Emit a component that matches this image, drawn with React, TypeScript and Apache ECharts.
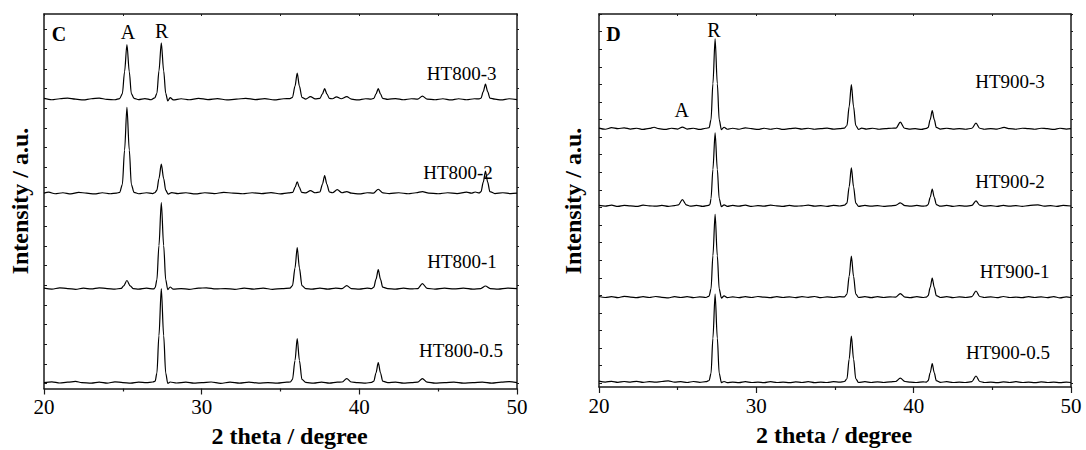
import React, { useEffect, useRef } from "react";
import * as echarts from "echarts";

// ---------- data ----------
const X_MIN = 20;
const X_MAX = 50;
const X_STEP = 10;
const Y_MAX = 1900;

const SERIES_C = ["HT800-3", "HT800-2", "HT800-1", "HT800-0.5"];
const OFFSETS_C = [1468, 991, 507, 30];
const SERIES_D = ["HT900-3", "HT900-2", "HT900-1", "HT900-0.5"];
const OFFSETS_D = [1316, 923, 458, 25];

const HT800_3: number[][] = [[20,4],[20.5,-3],[21,2],[21.5,5],[22,0],[22.5,-4],[23,2],[23.5,5],[24,-1],[24.5,-3],[24.8,3],
[24.97,28],[25.11,139],[25.26,277],[25.41,139],[25.54,28],[25.71,4],
[26,-2],[26.4,3],[26.8,-3],[27.02,6],
[27.16,29],[27.29,143],[27.44,285],[27.59,143],[27.72,29],[27.85,-9],[28.0,8],[28.2,-4],
[28.7,2],[29.2,-3],[29.8,4],[30.4,-2],[31.0,3],[31.6,-4],[32.2,0],[32.8,4],[33.4,-2],[34.0,3],[34.6,-4],[35.2,2],[35.6,3],
[35.76,9],[35.92,66],[36.06,132],[36.2,66],[36.36,9],[36.6,0],[36.9,13],[37.2,1],
[37.5,4],[37.66,27],[37.8,53],[37.94,27],[38.1,4],[38.3,2],[38.55,12],[38.85,2],[39.2,13],[39.5,0],[39.9,-4],[40.4,2],[40.75,0],
[40.92,4],[41.06,27],[41.2,53],[41.34,27],[41.48,4],[41.8,-1],[42.3,3],[42.8,-3],[43.3,2],[43.7,0],[44.0,15],[44.3,0],[44.8,-3],[45.3,2],[45.8,-4],[46.3,2],[46.8,-3],[47.3,2],[47.6,1],
[47.72,5],[47.86,38],[48.0,76],[48.14,38],[48.28,5],[48.6,0],[49.0,-4],[49.5,2],[50,-2]];

const HT800_2: number[][] = [[20,0],[20.3,5],[20.7,-3],[21.2,2],[21.7,-4],[22.2,4],[22.7,0],[23.2,-4],[23.7,2],[24.2,-3],[24.6,0],[24.8,4],
[24.97,44],[25.11,218],[25.26,435],[25.41,218],[25.54,44],[25.71,4],[26.0,-3],[26.5,2],[26.9,-2],[27.04,3],
[27.16,15],[27.29,74],[27.44,147],[27.59,74],[27.72,15],[27.88,-5],[28.1,3],[28.5,-2],[29.0,2],[29.6,-4],[30.2,2],[30.8,-2],[31.4,4],[32.0,0],[32.6,-3],[33.2,2],[33.8,-2],[34.4,3],[35.0,-4],[35.5,1],
[35.78,4],[35.92,29],[36.06,58],[36.2,29],[36.34,4],[36.6,1],[36.9,13],[37.2,2],
[37.5,6],[37.66,45],[37.8,89],[37.94,45],[38.1,6],[38.3,2],[38.6,18],[38.9,2],[39.2,8],[39.5,0],[40.0,-4],[40.5,2],[40.9,0],
[41.2,20],[41.5,1],[41.9,-2],[42.5,2],[43.1,-3],[43.6,2],[44.0,8],[44.4,0],[45.0,-3],[45.6,2],[46.2,-2],[46.8,5],[47.1,0],[47.35,6],[47.6,1],
[47.72,8],[47.86,56],[48.0,112],[48.14,56],[48.28,8],[48.6,-2],[49.1,2],[49.6,-2],[50,0]];

const HT800_1: number[][] = [[20,2],[20.5,-3],[21,4],[21.5,0],[22,-4],[22.5,2],[23,-2],[23.5,4],[24,0],[24.5,-3],[24.9,1],
[25.05,14],[25.26,41],[25.47,14],[25.65,0],[26.0,-3],[26.5,2],[26.95,-2],[27.05,5],
[27.16,44],[27.29,218],[27.44,436],[27.59,218],[27.72,44],[27.85,-5],[28.0,8],[28.2,-3],[28.7,0],[29.2,-4],[29.8,2],[30.3,4],[30.9,-2],[31.5,0],[32.1,-4],[32.7,2],[33.3,-3],[33.9,2],[34.5,-4],[35.1,0],[35.6,2],
[35.76,15],[35.92,104],[36.06,208],[36.2,104],[36.36,15],[36.6,0],[37.0,-3],[37.5,2],[38.0,-3],[38.5,2],[38.9,0],[39.2,15],[39.5,0],[40.0,-3],[40.5,2],[40.78,0],
[40.92,7],[41.06,48],[41.2,96],[41.34,48],[41.48,7],[41.8,0],[42.3,-3],[42.8,2],[43.3,-2],[43.7,0],[44.0,25],[44.3,1],[44.8,-3],[45.4,2],[46.0,-2],[46.6,2],[47.2,-3],[47.7,0],[48.0,13],[48.3,0],[48.8,-3],[49.4,2],[50,0]];

const HT800_05: number[][] = [[20,0],[20.5,4],[21,-2],[21.5,2],[22,6],[22.4,0],[23,-3],[23.5,2],[24,-3],[24.5,4],[25,0],[25.5,-3],[26,2],[26.5,0],[26.9,3],[27.05,7],
[27.16,48],[27.29,238],[27.44,477],[27.59,238],[27.72,48],[27.85,-4],[28.0,3],[28.4,-2],[29,2],[29.5,-3],[30,0],[30.6,3],[31.2,-4],[31.8,2],[32.4,-3],[33,2],[33.6,-3],[34.2,0],[34.8,-3],[35.4,2],[35.62,3],
[35.76,16],[35.92,112],[36.06,223],[36.2,112],[36.36,16],[36.6,1],[37.1,-3],[37.6,2],[38.1,-3],[38.6,2],[38.9,3],[39.2,20],[39.5,3],[39.9,0],[40.4,-3],[40.78,1],
[40.92,7],[41.06,50],[41.2,101],[41.34,50],[41.48,7],[41.8,0],[42.3,2],[42.8,-3],[43.3,0],[43.7,2],[44.0,20],[44.3,2],[44.8,-3],[45.4,0],[46.0,2],[46.6,-3],[47.2,0],[47.8,2],[48.4,-3],[49.0,2],[49.5,5],[50,0]];

const HT900_3: number[][] = [[20,3],[20.4,-3],[20.8,5],[21.2,0],[21.6,4],[22.0,-2],[22.4,2],[22.8,-4],[23.2,1],[23.5,7],[23.8,0],[24.2,-4],[24.6,2],[25.0,-2],[25.3,8],[25.6,-2],[26.0,2],[26.4,-4],[26.8,2],[27.0,5],
[27.12,46],[27.24,229],[27.38,458],[27.52,229],[27.64,46],[27.78,-5],[27.95,7],[28.15,-3],[28.5,2],[28.9,-3],[29.3,4],[29.7,0],[30.1,-4],[30.5,2],[30.9,-3],[31.3,2],[31.7,-4],[32.1,0],[32.5,3],[32.9,-2],[33.3,2],[33.7,-3],[34.1,0],[34.5,3],[34.9,-2],[35.3,0],[35.6,3],
[35.76,16],[35.9,112],[36.04,224],[36.18,112],[36.32,16],[36.5,-4],[36.7,3],[37.0,-2],[37.4,2],[37.8,-3],[38.2,0],[38.6,2],[38.88,3],
[39.15,33],[39.42,2],[39.7,-2],[40.1,0],[40.5,-4],[40.8,1],
[40.92,6],[41.05,46],[41.18,92],[41.31,46],[41.44,6],[41.7,-2],[42.1,2],[42.5,-2],[42.9,0],[43.3,-3],[43.7,2],[43.96,28],[44.2,2],[44.5,-3],[44.9,0],[45.3,-2],[45.75,6],[46.1,0],[46.5,-3],[46.9,2],[47.3,0],[47.7,-3],[48.1,2],[48.5,0],[48.9,-4],[49.3,2],[49.7,-2],[50,0]];

const HT900_2: number[][] = [[20,2],[20.4,-2],[20.8,3],[21.2,-3],[21.6,2],[22.0,0],[22.4,-3],[22.8,3],[23.2,0],[23.6,-2],[24.0,2],[24.4,-3],[24.8,1],[25.05,5],[25.3,31],[25.55,5],[25.8,-2],[26.2,2],[26.6,-3],[26.95,2],[27.05,6],
[27.12,37],[27.24,186],[27.38,372],[27.52,186],[27.64,37],[27.78,-4],[27.95,5],[28.15,-3],[28.5,2],[28.9,-2],[29.3,3],[29.7,-3],[30.1,1],[30.5,-2],[30.9,3],[31.3,0],[31.7,-3],[32.1,2],[32.5,-2],[32.9,0],[33.3,3],[33.7,-2],[34.1,1],[34.5,-3],[34.9,2],[35.3,-1],[35.6,3],
[35.76,14],[35.9,97],[36.04,193],[36.18,97],[36.32,14],[36.5,-3],[36.9,2],[37.3,-2],[37.7,1],[38.1,-3],[38.5,0],[38.85,2],[39.15,15],[39.45,1],[39.8,-2],[40.2,2],[40.6,-2],[40.8,0],
[40.92,6],[41.05,43],[41.18,85],[41.31,43],[41.44,6],[41.7,-2],[42.1,2],[42.5,-3],[42.9,1],[43.3,-2],[43.7,2],[43.96,25],[44.2,3],[44.5,-2],[44.9,1],[45.3,-3],[45.7,2],[46.1,-2],[46.5,1],[46.9,-3],[47.3,1],[47.9,5],[48.3,-2],[48.7,1],[49.1,-3],[49.5,2],[50,-1]];

const HT900_1: number[][] = [[20,3],[20.4,-2],[20.8,2],[21.2,-3],[21.6,4],[22.0,0],[22.4,-3],[22.8,2],[23.2,-2],[23.6,3],[24.0,-1],[24.4,-4],[24.8,2],[25.2,-2],[25.6,2],[26.0,-3],[26.4,1],[26.8,-2],[27.0,5],
[27.12,42],[27.24,211],[27.38,422],[27.52,211],[27.64,42],[27.78,-5],[27.95,6],[28.15,-3],[28.5,1],[28.9,-3],[29.3,2],[29.7,-2],[30.1,3],[30.5,0],[30.9,-3],[31.3,2],[31.7,-2],[32.1,1],[32.5,-3],[32.9,2],[33.3,-1],[33.7,3],[34.1,-3],[34.5,1],[34.9,-2],[35.3,2],[35.6,1],
[35.76,15],[35.9,105],[36.04,209],[36.18,105],[36.32,15],[36.5,-2],[36.9,2],[37.3,-3],[37.7,2],[38.1,-2],[38.5,1],[38.85,0],[39.15,18],[39.45,0],[39.8,-3],[40.2,2],[40.6,-2],[40.8,0],
[40.92,7],[41.05,49],[41.18,97],[41.31,49],[41.44,7],[41.7,-2],[42.1,2],[42.5,-3],[42.9,1],[43.3,-2],[43.7,2],[43.96,31],[44.2,3],[44.5,-2],[44.9,1],[45.3,-3],[45.7,3],[46.1,-2],[46.5,0],[46.9,-3],[47.3,2],[47.7,-2],[48.1,1],[48.5,-3],[48.9,2],[49.3,-4],[49.7,1],[50,-2]];

const HT900_05: number[][] = [[20,5],[20.4,0],[20.8,4],[21.2,-1],[21.6,3],[22.0,0],[22.4,4],[22.8,-1],[23.2,2],[23.6,0],[24.0,3],[24.4,6],[24.8,0],[25.2,2],[25.6,-2],[26.0,3],[26.4,-1],[26.8,2],[27.0,8],
[27.12,45],[27.24,224],[27.38,448],[27.52,224],[27.64,45],[27.78,-3],[27.95,3],[28.15,-3],[28.5,0],[28.9,-3],[29.3,2],[29.7,-2],[30.1,0],[30.5,-3],[30.9,2],[31.3,-2],[31.7,0],[32.1,-3],[32.5,1],[32.9,-2],[33.3,2],[33.7,-3],[34.1,0],[34.5,-2],[34.9,2],[35.3,0],[35.6,3],
[35.76,17],[35.9,117],[36.04,234],[36.18,117],[36.32,17],[36.5,-2],[36.9,2],[37.3,-2],[37.7,1],[38.1,-2],[38.5,1],[38.85,3],[39.15,20],[39.45,3],[39.8,0],[40.2,-2],[40.6,1],[40.8,0],
[40.92,7],[41.05,47],[41.18,94],[41.31,47],[41.44,7],[41.7,-1],[42.1,2],[42.5,-2],[42.9,0],[43.3,-2],[43.7,2],[43.96,31],[44.2,3],[44.5,-2],[44.9,0],[45.3,-3],[45.7,1],[46.1,-2],[46.5,2],[46.9,-2],[47.3,0],[47.7,-3],[48.1,1],[48.5,-2],[48.9,0],[49.3,-3],[49.7,0],[50,-2]];

const TRACES_C = [HT800_3, HT800_2, HT800_1, HT800_05];
const TRACES_D = [HT900_3, HT900_2, HT900_1, HT900_05];

// ---------- styling ----------
const SERIF = '"Liberation Serif", "Times New Roman", Times, serif';
const AXIS_COLOR = "#1a1a1a";

export default function App() {
  const ref = useRef<HTMLDivElement>(null);

  useEffect(() => {
    if (!ref.current) return;
    const chart = echarts.init(ref.current, undefined, { renderer: "svg" });

    const panels = [
      { main: { left: 44, top: 14, width: 473, height: 374.5 }, ticks: { left: 44, top: 29.5, width: 473, height: 354 }, tickMax: 1800 },
      { main: { left: 599, top: 14, width: 472, height: 373 }, ticks: { left: 599, top: 14, width: 472, height: 369.3 }, tickMax: 2100 },
    ];

    const grid: any[] = [];
    const xAxis: any[] = [];
    const yAxis: any[] = [];
    panels.forEach((p, i) => {
      grid.push({ ...p.main, containLabel: false });
      grid.push({ ...p.ticks, containLabel: false });
      const g = i * 2;
      // bottom axis
      xAxis.push({
        type: "value", gridIndex: g, min: X_MIN, max: X_MAX, interval: X_STEP, position: "bottom",
        axisLine: { show: true, onZero: false, lineStyle: { color: AXIS_COLOR, width: 1.5 } },
        axisTick: { show: true, inside: false, length: 6, lineStyle: { color: AXIS_COLOR, width: 1.2 } },
        minorTick: { show: true, splitNumber: 2, length: 3, lineStyle: { color: AXIS_COLOR, width: 1.2 } },
        axisLabel: { show: true, color: "#000", fontFamily: SERIF, fontSize: 21, margin: 8 },
        splitLine: { show: false },
      });
      // top mirror
      xAxis.push({
        type: "value", gridIndex: g, min: X_MIN, max: X_MAX, interval: X_STEP, position: "top",
        axisLine: { show: true, onZero: false, lineStyle: { color: AXIS_COLOR, width: 1.5 } },
        axisTick: { show: true, inside: true, length: 2, lineStyle: { color: AXIS_COLOR, width: 1 } },
        minorTick: { show: true, splitNumber: 2, length: 2, lineStyle: { color: AXIS_COLOR, width: 1 } },
        axisLabel: { show: false },
        splitLine: { show: false },
      });
      // hidden x for tick grid
      xAxis.push({ type: "value", gridIndex: g + 1, min: X_MIN, max: X_MAX, show: false });
      // main y axes (lines only)
      yAxis.push({
        type: "value", gridIndex: g, min: 0, max: Y_MAX, position: "left",
        axisLine: { show: true, onZero: false, lineStyle: { color: AXIS_COLOR, width: 1.5 } },
        axisTick: { show: false }, axisLabel: { show: false }, splitLine: { show: false },
      });
      yAxis.push({
        type: "value", gridIndex: g, min: 0, max: Y_MAX, position: "right",
        axisLine: { show: true, onZero: false, lineStyle: { color: AXIS_COLOR, width: 1.5 } },
        axisTick: { show: false }, axisLabel: { show: false }, splitLine: { show: false },
      });
      // tick-only y axes
      yAxis.push({
        type: "value", gridIndex: g + 1, min: 0, max: p.tickMax, interval: 100, position: "left",
        axisLine: { show: false },
        axisTick: { show: true, inside: true, length: 3, lineStyle: { color: AXIS_COLOR, width: 1 } },
        axisLabel: { show: false }, splitLine: { show: false },
      });
      yAxis.push({
        type: "value", gridIndex: g + 1, min: 0, max: p.tickMax, interval: 100, position: "right",
        axisLine: { show: false },
        axisTick: { show: true, inside: false, length: 2, lineStyle: { color: AXIS_COLOR, width: 1 } },
        axisLabel: { show: false }, splitLine: { show: false },
      });
    });

    const series: any[] = [];
    const addPanel = (names: string[], traces: number[][][], offsets: number[], panel: number) => {
      names.forEach((name, k) => {
        series.push({
          type: "line",
          name,
          xAxisIndex: panel * 3,
          yAxisIndex: panel * 4,
          data: traces[k].map(([x, y]) => [x, y + offsets[k]]),
          showSymbol: false,
          symbol: "none",
          smooth: 0.3,
          smoothMonotone: "x",
          silent: true,
          lineStyle: { color: "#000", width: 1.2 },
        });
      });
    };
    addPanel(SERIES_C, TRACES_C, OFFSETS_C, 0);
    addPanel(SERIES_D, TRACES_D, OFFSETS_D, 1);

    const txt = (text: string, x: number, y: number, size: number, bold = false, rotation = 0) => ({
      type: "text", x, y, rotation, silent: true,
      style: { text, fill: "#000", font: `${bold ? "bold " : ""}${size}px ${SERIF}`, align: "center", verticalAlign: "middle" },
    });

    const graphic = [
      txt("C", 59, 34, 20, true),
      txt("A", 128, 31.5, 20),
      txt("R", 161.7, 30.5, 20),
      txt(SERIES_C[0], 461.7, 73.3, 19),
      txt(SERIES_C[1], 458, 172.5, 19),
      txt(SERIES_C[2], 462, 261, 19),
      txt(SERIES_C[3], 461, 350.5, 19),
      txt("D", 613.5, 34, 20, true),
      txt("R", 714, 30, 20),
      txt("A", 681.7, 110, 20),
      txt(SERIES_D[0], 1010, 81.7, 19),
      txt(SERIES_D[1], 1010, 181.7, 19),
      txt(SERIES_D[2], 1014.7, 271.7, 19),
      txt(SERIES_D[3], 1008, 352, 19),
      txt("Intensity / a.u.", 20, 201, 24, true, Math.PI / 2),
      txt("Intensity / a.u.", 573, 201, 24, true, Math.PI / 2),
      txt("2 theta / degree", 289.5, 436, 24, true),
      txt("2 theta / degree", 834, 435, 24, true),
    ];

    chart.setOption({
      animation: false,
      backgroundColor: "#fff",
      grid,
      xAxis,
      yAxis,
      series,
      graphic,
    });

    return () => chart.dispose();
  }, []);

  return (
    <div
      ref={ref}
      style={{ position: "fixed", left: 0, top: 0, width: 1086, height: 450, background: "#fff" }}
    />
  );
}
